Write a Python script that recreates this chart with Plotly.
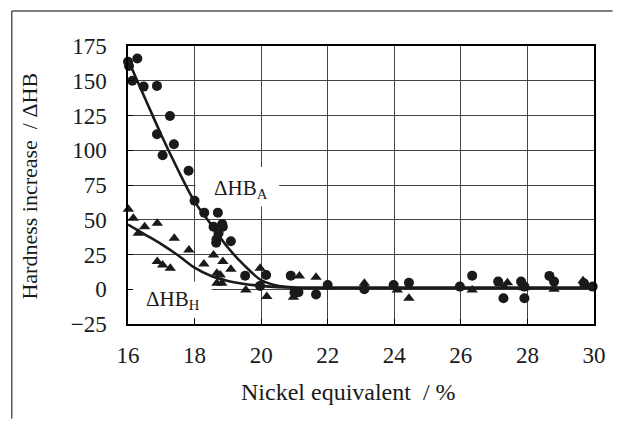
import plotly.graph_objects as go

# ---- data ----
# measured ΔHB_A (circles)
a_x = [16.0, 16.03, 16.13, 16.28, 16.47, 16.87, 16.87, 17.04, 17.26, 17.38, 17.82, 18.0,
       18.29, 18.57, 18.65, 18.66, 18.7, 18.72, 18.83, 18.85, 19.09, 19.52, 19.97, 20.15,
       20.89, 21.0, 21.12, 21.65, 22.0, 23.1, 23.98, 24.44, 25.97, 26.34, 27.12, 27.28,
       27.81, 27.91, 27.91, 28.66, 28.8, 29.7, 29.96]
a_y = [163.7, 160.6, 150, 166, 145.8, 146.3, 111.5, 96.4, 124.7, 104.3, 85.3, 63.7,
       55.1, 45, 33.5, 36, 55.1, 40.3, 47, 45, 34.5, 9.7, 2.4, 10.3,
       9.8, -2.4, -2.2, -3.7, 3.1, 0, 3.1, 4.7, 1.9, 9.8, 5.5, -6.5,
       5.5, -6.5, 1.9, 9.6, 5.5, 4.3, 1.9]

# measured ΔHB_H (triangles)
h_x = [16.01, 16.16, 16.31, 16.5, 16.88, 17.39, 17.83, 16.88, 17.04, 17.27, 18.28, 18.57,
       18.85, 19.09, 18.67, 18.77, 18.67, 18.82, 19.54, 19.97, 20.17, 20.97, 21.15, 21.65,
       23.1, 24.09, 24.44, 26.34, 27.3, 27.4, 27.91, 28.8, 29.67]
h_y = [57.6, 51, 40.3, 45, 47.5, 36.7, 28.3, 19.9, 17.5, 15.1, 18.2, 24.7,
       19.9, 14.4, 11.5, 10.3, 4.3, 4.3, -0.5, 15.1, -5.3, -5.8, 9.6, 8.6,
       4.3, -0.5, -6.5, -0.5, 2, 4.7, 1, 0, 6.2]

# fitted curves
fit_x = [16, 16.5, 17, 17.5, 18, 18.5, 19, 19.5, 20, 20.5, 21, 21.5, 22, 24, 26, 28, 30]
fitA_y = [165, 138, 111, 86, 63, 46.5, 30, 17, 6.5, 2.5, 1.3, 1, 1, 1, 1, 1, 1]
fitH_y = [46.5, 39.5, 32.5, 24.5, 15.5, 9.5, 6, 3.8, 2.4, 1.5, 1.1, 1, 1, 1, 1, 1, 1]

x_ticks = [16, 18, 20, 22, 24, 26, 28, 30]
y_ticks = [-25, 0, 25, 50, 75, 100, 125, 150, 175]

SERIF = "Liberation Serif"
INK = "#1a1a1a"

fig = go.Figure()
fig.add_trace(go.Scatter(x=fit_x, y=fitA_y, mode="lines", line=dict(color=INK, width=2.6, shape="spline", smoothing=0.8),
                         showlegend=False, hoverinfo="skip"))
fig.add_trace(go.Scatter(x=fit_x, y=fitH_y, mode="lines", line=dict(color=INK, width=2.6, shape="spline", smoothing=0.8),
                         showlegend=False, hoverinfo="skip"))
fig.add_trace(go.Scatter(x=a_x, y=a_y, mode="markers", name="ΔHB_A",
                         marker=dict(symbol="circle", size=10, color=INK), cliponaxis=False, showlegend=False))
fig.add_trace(go.Scatter(x=h_x, y=h_y, mode="markers", name="ΔHB_H",
                         marker=dict(symbol="triangle-up", size=10, color=INK), cliponaxis=False, showlegend=False))

axis_common = dict(showgrid=True, gridcolor="#444", gridwidth=1, zeroline=False,
                   showline=True, linecolor="black", linewidth=1.5, mirror=True,
                   ticks="inside", ticklen=5, tickcolor="black",
                   tickfont=dict(family=SERIF, size=23, color=INK))

fig.update_xaxes(range=[16, 30], tickvals=x_ticks, ticklabelstandoff=10, **axis_common)
fig.update_yaxes(range=[-25, 175], tickvals=y_ticks, ticklabelstandoff=15, **axis_common)

fig.update_layout(
    width=618, height=423,
    margin=dict(l=128, r=17, t=46, b=99),
    paper_bgcolor="white", plot_bgcolor="white",
    showlegend=False,
    font=dict(family=SERIF, color=INK),
    shapes=[
        # white boxes behind the curve labels (above grid, below data)
        dict(type="rect", xref="x", yref="y", x0=18.03, x1=20.54, y0=59.5, y1=88,
             fillcolor="white", line=dict(width=0), layer="between"),
        dict(type="rect", xref="x", yref="y", x0=16.06, x1=18.51, y0=-20.5, y1=5.5,
             fillcolor="white", line=dict(width=0), layer="between"),
        # outer frame (top and left)
        dict(type="line", xref="paper", yref="paper", x0=-0.2495, x1=1.04, y0=1.126, y1=1.126,
             line=dict(color="#555", width=1.5)),
        dict(type="line", xref="paper", yref="paper", x0=-0.2495, x1=-0.2495, y0=1.126, y1=-0.34,
             line=dict(color="#555", width=1.5)),
    ],
    annotations=[
        dict(text="ΔHB<sub>A</sub>", x=19.4, y=72, xref="x", yref="y", showarrow=False,
             font=dict(family=SERIF, size=21, color=INK)),
        dict(text="ΔHB<sub>H</sub>", x=17.35, y=-8, xref="x", yref="y", showarrow=False,
             font=dict(family=SERIF, size=21, color=INK)),
        dict(text="Nickel equivalent\u00a0 / %", x=0.4736, y=-0.245, xref="paper", yref="paper",
             xanchor="center", yanchor="middle", showarrow=False,
             font=dict(family=SERIF, size=24, color=INK)),
        dict(text="Hardness increase\u00a0 / ΔHB", x=-0.2114, y=0.496, xref="paper", yref="paper",
             xanchor="center", yanchor="middle", textangle=-90, showarrow=False,
             font=dict(family=SERIF, size=22, color=INK)),
    ],
)

fig.write_html("out.html", config={"displayModeBar": False},
               post_script="document.body.style.margin='0';")
